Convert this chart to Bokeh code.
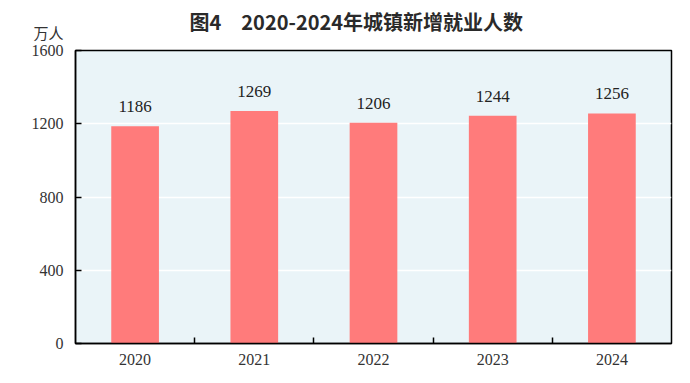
from bokeh.plotting import figure
from bokeh.models import ColumnDataSource, FixedTicker, Title, Range1d
from bokeh.core.properties import value
from bokeh.embed import file_html
from bokeh.resources import INLINE

years = ["2020", "2021", "2022", "2023", "2024"]
jobs = [1186, 1269, 1206, 1244, 1256]
y_ticks = [0, 400, 800, 1200, 1600]
title_text = "图4\u30002020-2024年城镇新增就业人数"
unit_text = "万人"

xs = list(range(len(years)))
src = ColumnDataSource(dict(x=xs, top=jobs, lab=[str(v) for v in jobs]))

p = figure(width=674, height=367, output_backend="svg", toolbar_location=None,
           x_range=Range1d(-0.5, len(years) - 0.5), y_range=Range1d(0, 1600),
           min_border_left=75, min_border_right=3, min_border_top=50, min_border_bottom=20,
           background_fill_color="#EAF4F8", border_fill_color="white")

p.title.text = title_text
p.title.align = "left"
p.title.offset = 114
p.title.text_font = "Noto Sans CJK SC"
p.title.text_font_size = "20px"
p.title.text_font_style = "bold"
p.title.text_color = "#2a2a2a"
p.title.standoff = -46

unit = Title(text=unit_text, align="left", offset=-42, standoff=15,
             text_font="Noto Sans CJK SC", text_font_size="15px",
             text_font_style="normal", text_color="#333333")
p.add_layout(unit, "above")

p.outline_line_color = "black"
p.outline_line_width = 1.5

p.vbar(x="x", top="top", width=0.4, source=src, fill_color="#FF7B7B", line_color=None)
p.text(x="x", y="top", text="lab", source=src, text_align="center", text_baseline="bottom",
       y_offset=-14, text_font=value("Liberation Serif"), text_font_size="17px", text_color="#222222")

xa = p.xaxis[0]
xa.ticker = FixedTicker(ticks=xs, minor_ticks=[i + 0.5 for i in xs[:-1]])
xa.major_label_overrides = {i: y for i, y in enumerate(years)}
xa.major_tick_line_color = None
xa.minor_tick_in = 6
xa.minor_tick_out = 0
xa.minor_tick_line_color = "black"
xa.minor_tick_line_width = 1.5
xa.axis_line_width = 1.5
xa.major_label_text_font = "Liberation Serif"
xa.major_label_text_font_size = "16px"
xa.major_label_text_color = "#333333"
xa.major_label_standoff = 4

ya = p.yaxis[0]
ya.ticker = FixedTicker(ticks=y_ticks)
ya.major_tick_in = 6
ya.major_tick_out = 0
ya.major_tick_line_width = 1.5
ya.minor_tick_line_color = None
ya.axis_line_width = 1.5
ya.major_label_text_font = "Liberation Serif"
ya.major_label_text_font_size = "16px"
ya.major_label_text_color = "#333333"
ya.major_label_standoff = 12

p.xgrid.grid_line_color = None
p.ygrid.grid_line_color = "white"
p.ygrid.grid_line_width = 1.5

open("out.html", "w").write(file_html(p, INLINE))
